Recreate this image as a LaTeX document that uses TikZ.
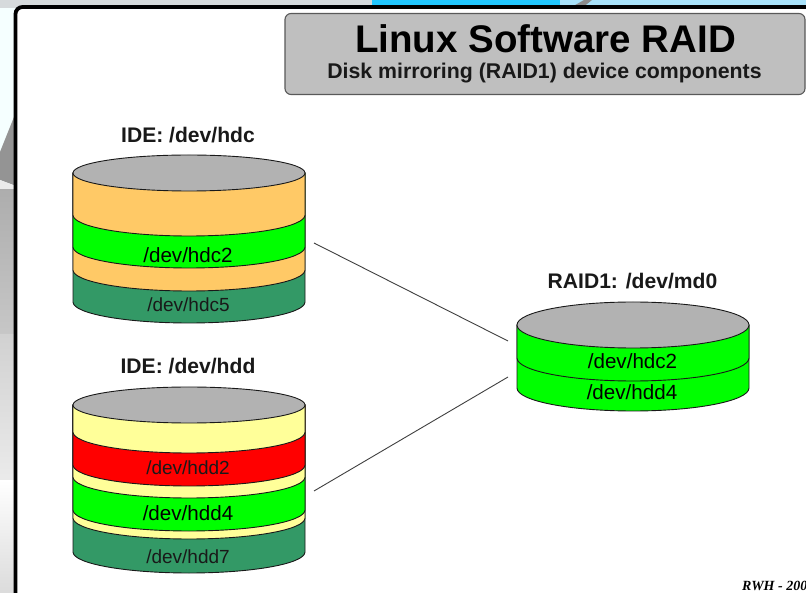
\documentclass[tikz,border=0pt]{standalone}
\usepackage{fontspec}
\setmainfont{Liberation Sans}
\newfontfamily\sigfont{Liberation Serif}
\tikzset{
  x=1pt,y=-1pt,
  lbl/.style={font=\fontsize{20.6}{22}\selectfont,text=black,inner sep=0pt,anchor=center},
  lblsmall/.style={font=\fontsize{19}{21}\selectfont,text=black!90,inner sep=0pt,anchor=center},
  head/.style={font=\bfseries\fontsize{21.1}{23}\selectfont,text=black!90,inner sep=0pt,anchor=center},
  edge/.style={draw=black!75,line width=0.9pt},
  disk/.style={draw=black!90,line width=0.9pt}
}
\definecolor{orangeD}{HTML}{FFC966}
\definecolor{yellowD}{HTML}{FFFF99}
\definecolor{greenD}{HTML}{00FF00}
\definecolor{redD}{HTML}{FF0000}
\definecolor{seaD}{HTML}{339966}
\definecolor{topD}{HTML}{B2B2B2}
\definecolor{skyD}{HTML}{22C8FF}
\definecolor{paleD}{HTML}{A8E2FA}
\definecolor{greyD}{HTML}{D6DADC}
% \band{x-left}{side y of lower edge}{arc depth}{colour}{top y}
\newcommand{\band}[5]{%
  \path[disk,fill=#4] (#1,#5) -- (#1,#2)
    .. controls (#1,#2+#3*0.552) and (#1+52,#2+#3) .. (#1+116,#2+#3)
    .. controls (#1+180,#2+#3) and (#1+232,#2+#3*0.552) .. (#1+232,#2)
    -- (#1+232,#5) -- cycle;}
\newcommand{\lid}[3]{%
  \path[disk,fill=topD] (#1+116,#2) ellipse[x radius=116,y radius=#3];}
\begin{document}
\begin{tikzpicture}
\useasboundingbox (0,0) rectangle (806,593);
\clip (0,0) rectangle (806,593);
% photo background seen behind the slide
\fill[top color=cyan!4!white,bottom color=cyan!4!white] (0,0) rectangle (16,593);
\fill[black!42] (0,152) -- (16,112) -- (16,186) -- (0,180) -- cycle;
\fill[black!8] (0,180) -- (16,186) -- (16,192) -- (0,190) -- cycle;
\fill[top color=black!32,bottom color=black!22] (0,190) rectangle (16,335);
\fill[top color=black!18,bottom color=black!8] (0,335) rectangle (16,480);
\fill[top color=white,bottom color=black!14] (0,480) rectangle (16,593);
\fill[greyD] (0,0) rectangle (372,8);
\fill[skyD] (372,0) rectangle (560,8);
\fill[paleD] (560,0) rectangle (806,8);
\fill[black!45] (570,8) -- (582,8) -- (592,0) -- (584,0) -- cycle;
% slide frame
\draw[line width=3.8pt,fill=white,rounded corners=7pt] (15.5,7) rectangle (830,612);
% title
\node[draw=black!65,line width=1.1pt,fill=black!25,rounded corners=6pt,minimum width=520pt,minimum height=81pt,inner sep=0pt] (title) at (545,54) {};
\node[font=\bfseries\fontsize{38.5}{41}\selectfont,inner sep=0pt] (t1) at (545.5,39) {Linux Software RAID};
\node[font=\bfseries\fontsize{21.3}{23}\selectfont,text=black!90,inner sep=0pt] (t2) at (544.5,73) {Disk mirroring (RAID1) device components};
% disk hdc
\node[head] (hdc) at (188,135) {IDE: /dev/hdc};
\band{73}{302}{21}{seaD}{173}
\band{73}{270}{21}{orangeD}{173}
\band{73}{247}{21}{greenD}{173}
\band{73}{215}{21}{orangeD}{173}
\lid{73}{173}{18}
\node[lbl] (hdc2) at (188,255) {/dev/hdc2};
\node[lblsmall] (hdc5) at (188.5,305) {/dev/hdc5};
% disk hdd
\node[head] (hdd) at (188,366) {IDE: /dev/hdd};
\band{73}{552}{21}{seaD}{405}
\band{73}{518}{21}{yellowD}{405}
\band{73}{510}{21}{greenD}{405}
\band{73}{477}{21}{yellowD}{405}
\band{73}{465}{21}{redD}{405}
\band{73}{432}{21}{yellowD}{405}
\lid{73}{405}{18}
\node[lblsmall] (hdd2) at (188,468) {/dev/hdd2};
\node[lbl] (hdd4) at (188,513) {/dev/hdd4};
\node[lblsmall] (hdd7) at (188,557) {/dev/hdd7};
% raid
\node[head] (md) at (632.5,281) {RAID1: /dev/md0};
\band{517}{388}{23}{greenD}{325}
\band{517}{358}{23}{greenD}{325}
\lid{517}{325}{23}
\node[lbl] (m1) at (632.5,361) {/dev/hdc2};
\node[lbl] (m2) at (632,392) {/dev/hdd4};
% connectors
\coordinate (a1) at (314,243);
\coordinate (a2) at (508,341);
\coordinate (b1) at (314,491);
\coordinate (b2) at (508,377);
\draw[edge] (a1) -- (a2);
\draw[edge] (b1) -- (b2);
% signature
\node[font=\sigfont\itshape\bfseries\fontsize{14}{16}\selectfont,inner sep=0pt,anchor=west] (sig) at (742,586) {RWH - 2005};
\end{tikzpicture}
\end{document}
